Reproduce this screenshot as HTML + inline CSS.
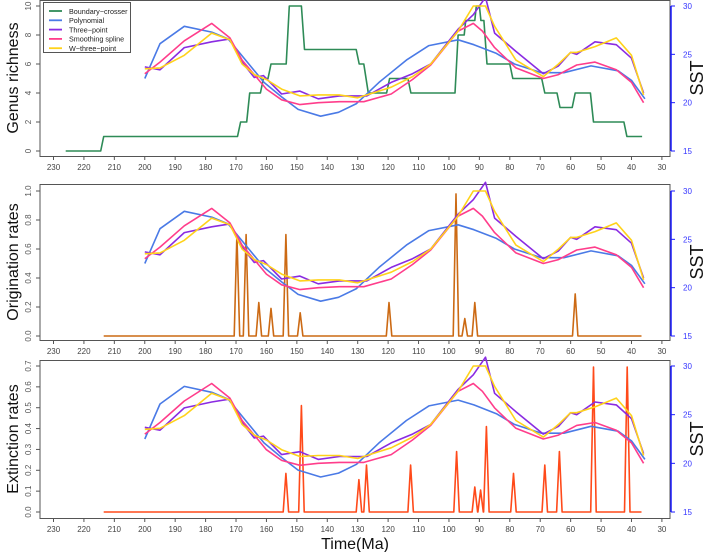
<!DOCTYPE html>
<html><head><meta charset="utf-8"><style>
body{margin:0;background:#fff;}
svg{display:block;font-family:"Liberation Sans",Arial,sans-serif;}
</style></head><body>
<svg id="chart" width="709" height="552" viewBox="0 0 709 552" xmlns="http://www.w3.org/2000/svg"></svg>
<script>
// ---- data ----
const timeTicks = [230,220,210,200,190,180,170,160,150,140,130,120,110,100,90,80,70,60,50,40,30];
const polyT = [200,195,187,178,172.6,160.8,155,149.6,142.2,136.3,130.4,123,114,106.6,97,91.8,84.4,78.5,69.6,62.2,53.3,44.4,40,35.6];
const polySST = [22.5,26.1,27.9,27.3,26.6,22.1,20.6,19.3,18.6,19.0,19.9,22.1,24.4,25.9,26.5,26.0,25.1,24.0,23.1,23.1,23.8,23.3,22.3,20.4];
const threeT = [200,195,187,178,172,168,164,161,155,149,143,136,130,127,119,112,106,97,92,88,85,78,69,64,60,58,52,45,40,36];
const threeSST = [23.7,23.4,25.7,26.3,26.6,24.2,22.6,22.8,20.9,21.2,20.4,20.7,20.7,20.7,22.1,23.0,24.0,27.6,29.1,30.9,27.2,25.3,23.0,23.8,25.2,25.0,26.3,26.0,24.6,21.0];
const wT = [200,195,187,178,172,168,164,160,155,149,143,136,130,127,119,112,106,97,92,88,85,78,69,64,60,58,52,45,40,36];
const wSST = [23.5,23.6,24.9,27.2,26.5,24.0,22.9,22.4,21.4,20.7,20.8,20.8,20.5,20.8,21.6,22.7,24.0,27.4,30.0,30.0,27.9,24.4,22.7,24.0,25.2,25.2,25.8,26.7,24.9,20.8];
const splineT = [200,195,187,178,172,168,164,160,155,149,143,136,128,119,112,106,97,92,89,85,78,69,64,58,52,45,40,36];
const splineSST = [23.0,24.2,26.4,28.2,26.7,24.4,22.9,21.4,20.3,19.8,20.0,20.1,20.1,20.9,22.4,23.9,27.4,28.2,27.4,25.7,23.6,22.5,22.9,23.9,24.2,23.4,22.1,20.0];
const bcStart = [226,213.5,168.5,165.5,161,158.5,152.5,147.5,129.5,126.5,119.5,112.5,97,94.5,91,89.5,87.5,79,68.5,63.5,58.5,52.5,41.5];
const bcEnd   = [214.5,169.5,166.5,162,159.5,153.5,148.5,130.5,128,120.5,113.5,98,95,91.5,90,88.5,80,69.5,64.5,59.5,53.5,42.5,36.5];
const bcVal   = [0,1,2,4,5,6,10,7,6,4,5,4,8,9,10,9,6,5,4,3,4,2,1];
const rateStart = 213.5, rateEnd = 36.7;
const origT = [169.7,166.7,162.5,158.5,153.6,148.9,119.7,97.7,94.8,91.5,58.5];
const origV = [0.70,0.70,0.23,0.19,0.70,0.16,0.23,0.98,0.12,0.23,0.29];
const extT = [153.6,148.5,129.6,127.1,112.6,97.5,91.5,89.6,87.7,78.8,68.5,63.7,52.5,41.4];
const extV = [0.185,0.51,0.155,0.225,0.225,0.29,0.12,0.105,0.41,0.185,0.225,0.29,0.695,0.695];
const sstTicks = [15,20,25,30];

// ---- layout ----
const NS = "http://www.w3.org/2000/svg";
const svg = document.getElementById('chart');
const X0 = 40, X1 = 670;
function x(t){ return 53.5 + (230 - t) * 3.042; }
const panels = [
  {name:'richness', top:0, bottom:156, y0:151, y1:6, vmax:10, ticks:[0,2,4,6,8,10], fmt:v=>String(v), title:'Genus richness'},
  {name:'origination', top:184, bottom:340, y0:336, y1:191, vmax:1.0, ticks:[0,0.2,0.4,0.6,0.8,1.0], fmt:v=>v.toFixed(1), title:'Origination rates'},
  {name:'extinction', top:360, bottom:518, y0:512, y1:366, vmax:0.7, ticks:[0,0.1,0.2,0.3,0.4,0.5,0.6,0.7], fmt:v=>v.toFixed(1), title:'Extinction rates'}
];
function mk(tag, attrs, parent){
  const e = document.createElementNS(NS, tag);
  for (const k in attrs) e.setAttribute(k, attrs[k]);
  (parent||svg).appendChild(e);
  return e;
}
function polyline(pts, color, parent, w){
  return mk('polyline', {points: pts.map(p=>p[0].toFixed(1)+','+p[1].toFixed(1)).join(' '), fill:'none', stroke:color, 'stroke-width':w||1.6, 'stroke-linejoin':'round'}, parent);
}
const COL = {bc:'#2e8b57', poly:'#4a7ae6', three:'#8a2be2', spline:'#ff3d8b', w:'#ffd21a', orig:'#cc6a14', ext:'#ff4a1a'};

panels.forEach((P, pi) => {
  const g = mk('g', {});
  
  
  const yv = v => P.y0 - (v / P.vmax) * (P.y0 - P.y1);
  const ys = s => P.y0 - (s - 15) / 15 * (P.y0 - P.y1);
  const box = mk('rect', {x:X0, y:P.top+0.5, width:X1-X0, height:P.bottom-P.top, fill:'none', stroke:'#555', 'stroke-width':1}, g);
  
  
  P.ticks.forEach(v => {
    const yy = yv(v);
    mk('line', {x1:X0-4, x2:X0, y1:yy, y2:yy, stroke:'#555'}, g);
    const t = mk('text', {x:31, y:yy, 'font-size':8, fill:'#555', 'text-anchor':'middle', transform:`rotate(-90 31 ${yy})`}, g);
    t.textContent = P.fmt(v);
    
    
  });
  const cy = (P.top + P.bottom) / 2;
  const yt = mk('text', {x:18, y:cy, 'font-size':16, fill:'#111', 'text-anchor':'middle', transform:`rotate(-90 18 ${cy})`}, g);
  yt.textContent = P.title;
  
  
  timeTicks.forEach(tv => {
    const xx = x(tv);
    mk('line', {x1:xx, x2:xx, y1:P.bottom, y2:P.bottom+4, stroke:'#555'}, g);
    const t = mk('text', {x:xx, y:P.bottom+14, 'font-size':8, fill:'#444', 'text-anchor':'middle'}, g);
    t.textContent = tv;
    
    
  });
  mk('line', {x1:X1+1, x2:X1+1, y1:ys(15), y2:ys(30), stroke:'#1a1aff', 'stroke-width':1.5}, g);
  sstTicks.forEach(s => {
    const yy = ys(s);
    mk('line', {x1:X1+1, x2:X1+5, y1:yy, y2:yy, stroke:'#1a1aff'}, g);
    const t = mk('text', {x:683, y:yy+3, 'font-size':8, fill:'#3333ff', 'text-anchor':'start'}, g);
    t.textContent = s;
    
    
  });
  const st = mk('text', {x:703, y:cy, 'font-size':18, fill:'#111', 'text-anchor':'middle', transform:`rotate(-90 703 ${cy})`}, g);
  st.textContent = 'SST';
  
  

  if (pi === 0) {
    const pts = [];
    bcStart.forEach((s, i) => { pts.push([x(s), yv(bcVal[i])]); pts.push([x(bcEnd[i]), yv(bcVal[i])]); });
    const l = polyline(pts, COL.bc, g, 1.6);
    
    
  } else {
    const T = pi === 1 ? origT : extT, V = pi === 1 ? origV : extV;
    const pts = [[x(rateStart), yv(0)]];
    T.forEach((t, i) => {
      pts.push([x(t + 0.9), yv(0)]);
      pts.push([x(t), yv(V[i])]);
      pts.push([x(t - 0.9), yv(0)]);
    });
    pts.push([x(rateEnd), yv(0)]);
    const l = polyline(pts, pi === 1 ? COL.orig : COL.ext, g, 1.6);
    
    
  }
  const sst = [[polyT, polySST, COL.poly, 'polynomial-sst-line'], [threeT, threeSST, COL.three, 'three-point-sst-line'], [splineT, splineSST, COL.spline, 'smoothing-spline-sst-line'], [wT, wSST, COL.w, 'w-three-point-sst-line']];
  sst.forEach(s => {
    const l = polyline(s[0].map((t, i) => [x(t), ys(s[1][i])]), s[2], g, 1.6);
    
    
  });
});

const xt = mk('text', {x:355, y:549, 'font-size':16, fill:'#111', 'text-anchor':'middle'});
xt.textContent = 'Time(Ma)';



const lg = mk('g', {});


mk('rect', {x:43.5, y:2.5, width:87, height:50, fill:'#fff', stroke:'#555'}, lg);
const legNames = ['Boundary\u2212crosser', 'Polynomial', 'Three\u2212point', 'Smoothing spline', 'W\u2212three\u2212point'];
const legCols = [COL.bc, COL.poly, COL.three, COL.spline, COL.w];
legNames.forEach((n, i) => {
  const yy = 11 + i * 9.3;
  mk('line', {x1:49, x2:62, y1:yy, y2:yy, stroke:legCols[i], 'stroke-width':1.8}, lg);
  const t = mk('text', {x:69, y:yy+2.8, 'font-size':7.2, fill:'#222'}, lg);
  t.textContent = n;
  
  
});
</script>
</body></html>
